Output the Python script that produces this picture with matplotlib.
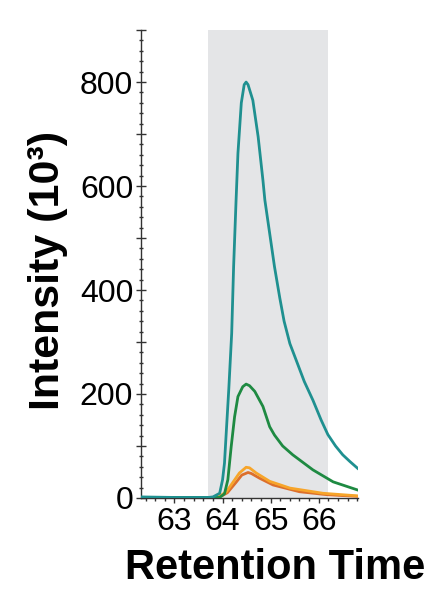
import matplotlib
matplotlib.use("Agg")
import matplotlib.pyplot as plt
from matplotlib.ticker import MultipleLocator, FuncFormatter

# extracted ion chromatograms, intensity in thousands
teal_rt = [62.3, 63.0, 63.7, 63.8, 63.94, 64.0, 64.04, 64.08, 64.13, 64.19, 64.23,
           64.28, 64.32, 64.39, 64.45, 64.49, 64.53, 64.63, 64.74, 64.84, 64.88,
           64.98, 65.08, 65.19, 65.28, 65.4, 65.54, 65.7, 65.88, 66.05, 66.19,
           66.35, 66.5, 66.65, 66.81]
teal_int = [2, 1, 1, 2, 9, 35, 67, 131, 210, 317, 445, 570, 663, 760, 795, 800,
            795, 765, 695, 611, 573, 509, 445, 385, 340, 297, 263, 224, 188, 150,
            122, 100, 83, 70, 57]

green_rt = [62.3, 63.0, 63.8, 63.94, 64.04, 64.11, 64.18, 64.25, 64.32, 64.42,
            64.49, 64.56, 64.67, 64.84, 64.98, 65.08, 65.25, 65.46, 65.88, 66.3, 66.82]
green_int = [1, 1, 1, 1, 8, 35, 99, 156, 195, 214, 219, 216, 205, 176, 137, 121,
             100, 83, 54, 31, 15]

orange_rt = [62.3, 63.8, 63.9, 64.08, 64.2, 64.35, 64.49, 64.56, 64.7, 64.98,
             65.4, 66.09, 66.82]
orange_int = [0, 0, 1, 12, 28, 48, 59, 58, 48, 32, 19, 9, 4]

red_rt = [62.3, 63.8, 63.9, 64.1, 64.28, 64.4, 64.53, 64.6, 64.77, 65.05, 65.6,
          66.2, 66.82]
red_int = [0, 0, 0, 10, 30, 44, 49, 47, 38, 25, 12, 6, 3]

window = (63.7, 66.2)

plt.rcParams["font.family"] = ["Liberation Sans", "DejaVu Sans"]

fig = plt.figure(figsize=(4.32, 5.90), dpi=100)
ax = fig.add_axes([0.326, 0.156, 0.503, 0.793])

ax.axvspan(*window, color="#e4e5e7", lw=0, zorder=0)
ax.plot(red_rt, red_int, color="#dc6f2c", lw=2.0, zorder=3)
ax.plot(orange_rt, orange_int, color="#f7a52a", lw=2.0, zorder=4)
ax.plot(green_rt, green_int, color="#1e8a42", lw=2.0, zorder=5)
ax.plot(teal_rt, teal_int, color="#1f9090", lw=2.0, zorder=6)

ax.set_xlim(62.3, 66.82)
ax.set_ylim(0, 900)

for side in ("top", "right"):
    ax.spines[side].set_visible(False)
for side in ("left", "bottom"):
    ax.spines[side].set_color("#333333")
    ax.spines[side].set_linewidth(1.0)

ax.xaxis.set_major_locator(MultipleLocator(1))
ax.xaxis.set_minor_locator(MultipleLocator(0.2))
ax.yaxis.set_major_locator(MultipleLocator(100))
ax.yaxis.set_minor_locator(MultipleLocator(20))
ax.yaxis.set_major_formatter(FuncFormatter(lambda v, p: f"{v:.0f}" if v % 200 == 0 else ""))
ax.xaxis.set_major_formatter(FuncFormatter(lambda v, p: f"{v:.0f}"))

ax.tick_params(axis="y", which="major", direction="inout", length=7, width=1,
               color="#333333", labelsize=23, pad=2)
ax.tick_params(axis="y", which="minor", direction="inout", length=3.5, width=1,
               color="#333333")
ax.tick_params(axis="x", which="major", direction="out", length=3.5, width=1,
               color="#333333", labelsize=23, pad=3)
ax.tick_params(axis="x", which="minor", direction="out", length=2, width=1,
               color="#333333")

fig.text(0.110, 0.542, "Intensity (10³)", fontsize=31, fontweight="bold",
         rotation=90, ha="center", va="center")
fig.text(0.638, 0.0186, "Retention Time", fontsize=30, fontweight="bold",
         ha="center", va="baseline")

fig.savefig("out.png", dpi=100)
